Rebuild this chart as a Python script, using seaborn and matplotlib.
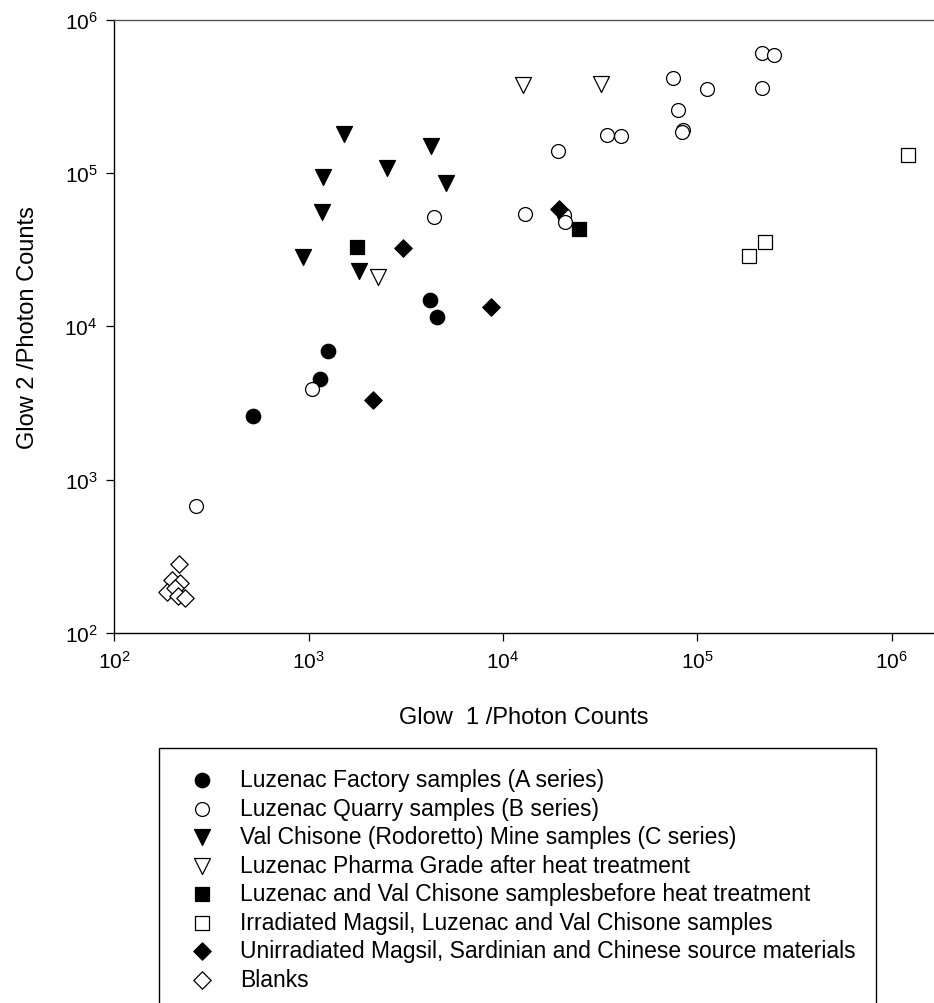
import numpy as np
import pandas as pd
import matplotlib
matplotlib.use("Agg")
import matplotlib.pyplot as plt
import seaborn as sns
from matplotlib.ticker import FixedLocator, FixedFormatter, NullLocator

# ---------------- data ----------------
labels = [
    "Luzenac Factory samples (A series)",
    "Luzenac Quarry samples (B series)",
    "Val Chisone (Rodoretto) Mine samples (C series)",
    "Luzenac Pharma Grade after heat treatment",
    "Luzenac and Val Chisone samplesbefore heat treatment",
    "Irradiated Magsil, Luzenac and Val Chisone samples",
    "Unirradiated Magsil, Sardinian and Chinese source materials",
    "Blanks",
]

factory_x = [4200, 4600, 1260, 1150, 520]
factory_y = [14800, 11500, 6930, 4500, 2590]

quarry_x = [4440, 1040, 264, 216300, 248300, 75000, 112700, 216300, 79400,
            34200, 40400, 84800, 83800, 19230, 13030, 20510, 20990]
quarry_y = [51400, 3910, 673, 605300, 584800, 415900, 349900, 358100, 256400,
            175800, 174600, 191000, 184000, 138000, 53830, 52840, 47970]

mine_x = [1521, 4266, 2541, 1180, 5082, 1167, 933, 1816]
mine_y = [178200, 150300, 107200, 93540, 85510, 55980, 28250, 22750]

pharma_x = [12650, 31990, 2286]
pharma_y = [373300, 378400, 20940]

before_x = [1782, 24720]
before_y = [33110, 43350]

irrad_x = [1211000, 222300, 184900]
irrad_y = [131200, 35160, 28910]

unirrad_x = [3048, 8650, 2153, 19500]
unirrad_y = [32140, 13370, 3281, 57940]

blank_x = [215, 198, 218, 187, 205, 213, 231]
blank_y = [281, 221, 211, 185, 196, 174, 169]

xs = [factory_x, quarry_x, mine_x, pharma_x, before_x, irrad_x, unirrad_x, blank_x]
ys = [factory_y, quarry_y, mine_y, pharma_y, before_y, irrad_y, unirrad_y, blank_y]

markers = ["o", "o", "v", "v", "s", "s", "D", "D"]
filled = [True, False, True, False, True, False, True, False]
sizes = [108, 100, 132, 132, 92, 92, 78, 78]

xticks = [1e2, 1e3, 1e4, 1e5, 1e6]
xtick_labels = [r"$\mathregular{10^{2}}$", r"$\mathregular{10^{3}}$", r"$\mathregular{10^{4}}$",
                r"$\mathregular{10^{5}}$", r"$\mathregular{10^{6}}$"]
yticks = [1e2, 1e3, 1e4, 1e5, 1e6]
ytick_labels = list(xtick_labels)

df = pd.concat(
    [pd.DataFrame({"x": x, "y": y, "group": g}) for x, y, g in zip(xs, ys, labels)],
    ignore_index=True,
)

# ---------------- style ----------------
sns.set_theme(style="ticks")
plt.rcParams["font.family"] = ["Liberation Sans", "DejaVu Sans"]
plt.rcParams["mathtext.fontset"] = "custom"
plt.rcParams["mathtext.rm"] = "Liberation Sans"
plt.rcParams["mathtext.it"] = "Liberation Sans:italic"
plt.rcParams["mathtext.bf"] = "Liberation Sans:bold"

W, H = 934, 1004
fig = plt.figure(figsize=(W / 100, H / 100), dpi=100)
ax_left, ax_right, ax_top, ax_bottom = 114.3, 934, 20.5, 634
ax = fig.add_axes([ax_left / W, (H - ax_bottom) / H,
                   (ax_right - ax_left) / W, (ax_bottom - ax_top) / H])

for g, m, f, s in zip(labels, markers, filled, sizes):
    sub = df[df["group"] == g]
    sns.scatterplot(data=sub, x="x", y="y", marker=m, s=s,
                    color="black", facecolor=("black" if f else "white"),
                    edgecolor="black", linewidth=0.9, label=g, ax=ax,
                    legend=False, zorder=3)

ax.set_xscale("log")
ax.set_yscale("log")
ax.set_xlim(1e2, 10 ** (2 + (ax_right - ax_left) / 194.3))
ax.set_ylim(1e2, 1e6)

ax.xaxis.set_major_locator(FixedLocator(xticks))
ax.xaxis.set_major_formatter(FixedFormatter(xtick_labels))
ax.yaxis.set_major_locator(FixedLocator(yticks))
ax.yaxis.set_major_formatter(FixedFormatter(ytick_labels))
ax.xaxis.set_minor_locator(NullLocator())
ax.yaxis.set_minor_locator(NullLocator())
ax.tick_params(axis="both", which="major", direction="out", length=6,
               width=0.9, color="black", labelsize=15, labelcolor="black")
ax.tick_params(axis="x", pad=6)
ax.tick_params(axis="y", pad=6)

for side in ["left", "bottom"]:
    ax.spines[side].set_color("black")
    ax.spines[side].set_linewidth(1.0)
ax.spines["top"].set_visible(True)
ax.spines["top"].set_color("#555555")
ax.spines["top"].set_linewidth(1.0)
ax.spines["right"].set_visible(False)

ax.set_xlabel("Glow  1 /Photon Counts", fontsize=17, color="black", labelpad=25)
ax.set_ylabel("Glow 2 /Photon Counts", fontsize=17, color="black", labelpad=18)
ax.grid(False)

handles, lbls = ax.get_legend_handles_labels()
leg = ax.legend(handles, lbls, loc="upper left",
                bbox_to_anchor=(159 / W, 1 - 749 / H),
                bbox_transform=fig.transFigure, borderaxespad=0,
                frameon=True, fancybox=False, edgecolor="black",
                framealpha=1, fontsize=16.5, borderpad=0.89,
                handlelength=1.98, handletextpad=0.67, labelspacing=0.24,
                scatterpoints=1)
leg.get_frame().set_linewidth(1.0)
for t in leg.get_texts():
    t.set_color("black")

fig.savefig("out.png", dpi=100)
